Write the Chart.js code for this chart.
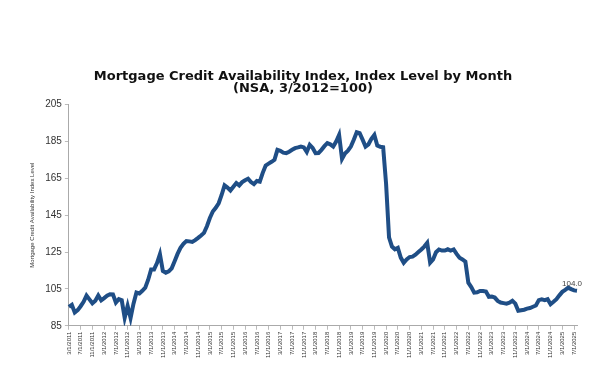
<!DOCTYPE html>
<html>
<head>
<meta charset="utf-8">
<script src="https://cdn.jsdelivr.net/npm/chart.js@4"></script>
<style>
  body { margin: 0; background: #fff; }
  #wrap { width: 599px; height: 366px; }
</style>
</head>
<body>
<div id="wrap"><canvas id="Mychart" width="599" height="366"></canvas></div>
<script>
// monthly index level, 3/2011 .. 8/2025
const startYear = 2011, startMonth = 3;
const mcai = [
  95.3, 96.4, 92.2, 93.5, 95.6, 98.0, 101.4, 99.3, 97.2, 98.6,              // 2011
  101.4, 98.8, 100.0, 101.3, 102.1, 102.0, 97.6, 99.4, 98.8, 89.3, 95.8, 89.2, // 2012
  97.0, 103.0, 102.5, 104.0, 105.7, 110.0, 115.6, 115.6, 119.0, 123.8, 114.7, 113.8, // 2013
  114.5, 116.2, 120.0, 124.0, 127.3, 129.5, 131.0, 130.8, 130.5, 131.5, 132.7, 134.0, // 2014
  135.4, 139.0, 143.5, 147.0, 149.0, 151.5, 156.0, 161.2, 160.0, 158.4, 160.5, 162.5, // 2015
  161.2, 163.0, 164.0, 164.8, 163.0, 161.9, 163.6, 163.2, 168.0, 172.0, 173.0, 174.0, // 2016
  175.1, 180.5, 180.0, 179.0, 178.7, 179.5, 180.5, 181.4, 181.8, 182.3, 181.8, 179.3, // 2017
  183.2, 181.5, 178.7, 178.8, 180.5, 182.5, 184.1, 183.5, 182.3, 185.0, 188.6, 175.6, // 2018
  178.5, 180.0, 182.3, 186.0, 190.0, 189.5, 186.0, 182.3, 183.5, 186.5, 188.6, 182.8, // 2019
  182.2, 181.9, 162.0, 133.0, 128.0, 126.5, 127.3, 122.0, 119.2, 121.0, 122.3, 122.5, // 2020
  123.6, 125.0, 126.4, 128.0, 130.0, 119.2, 121.0, 124.9, 126.4, 125.8, 125.8, 126.5, // 2021
  125.8, 126.4, 124.0, 121.9, 121.0, 119.8, 108.4, 106.0, 103.0, 103.2, 103.9, 103.9, // 2022
  103.6, 100.7, 100.9, 100.3, 98.5, 97.6, 97.3, 97.0, 97.5, 98.5, 97.0, 93.1,  // 2023
  93.4, 93.7, 94.3, 94.6, 95.3, 96.0, 98.9, 99.3, 98.9, 99.4, 96.7, 98.0,      // 2024
  99.4, 101.5, 103.4, 104.5, 105.7, 104.9, 104.2, 104.0                        // 2025
];

const monthLabels = mcai.map(function(v, i){
  const m = (startMonth - 1 + i) % 12 + 1;
  const y = startYear + Math.floor((startMonth - 1 + i) / 12);
  return m + '/1/' + y;
});

const yTicks = [85, 105, 125, 145, 165, 185, 205];
const lastLabel = '104.0';

const lastValuePlugin = {
  id: 'lastValue',
  afterDatasetsDraw(chart){
    const meta = chart.getDatasetMeta(0);
    const pt = meta.data[meta.data.length - 1];
    const c = chart.ctx;
    c.save();
    c.font = '8px "Liberation Sans", Arial';
    c.fillStyle = '#444';
    c.textAlign = 'center';
    c.textBaseline = 'bottom';
    c.fillText(lastLabel, pt.x - 5, pt.y - 3);
    c.restore();
  }
};

const ctx = document.getElementById('Mychart');
new Chart(ctx, {
  type: 'line',
  data: {
    labels: monthLabels,
    datasets: [{
      label: 'MCAI',
      data: mcai,
      borderColor: '#1f4e86',
      borderWidth: 4,
      pointRadius: 0,
      tension: 0,
      fill: false
    }]
  },
  options: {
    responsive: false,
    animation: false,
    layout: { padding: { left: 29, right: 22, top: 70, bottom: 6 } },
    plugins: {
      legend: { display: false },
      tooltip: { enabled: false },
      title: {
        display: true,
        text: ['Mortgage Credit Availability Index, Index Level by Month', '(NSA, 3/2012=100)'],
        color: '#111',
        font: { family: '"DejaVu Sans"', size: 13, weight: 'bold', lineHeight: 0.95 },
        padding: { top: 0, bottom: 10 }
      }
    },
    scales: {
      x: {
        grid: { display: true, drawOnChartArea: false, tickLength: 4, color: '#bbb' },
        border: { color: '#aaa' },
        ticks: {
          autoSkip: false,
          maxRotation: 90,
          minRotation: 90,
          color: '#333',
          padding: 2,
          font: { family: '"Liberation Sans", Arial', size: 6 },
          callback: function(val, i){ return i % 4 === 0 ? this.getLabelForValue(val) : null; }
        }
      },
      y: {
        min: yTicks[0],
        max: yTicks[yTicks.length - 1],
        afterBuildTicks: function(axis){ axis.ticks = yTicks.map(function(v){ return { value: v }; }); },
        grid: { display: true, drawOnChartArea: false, tickLength: 4, color: '#bbb' },
        border: { color: '#aaa' },
        ticks: {
          color: '#333',
          padding: 3,
          font: { family: '"Liberation Sans", Arial', size: 10 }
        },
        title: {
          display: true,
          text: 'Mortgage Credit Availability Index Level',
          color: '#333',
          font: { family: '"Liberation Sans", Arial', size: 6 },
          padding: { top: 0, bottom: 6 }
        }
      }
    }
  },
  plugins: [lastValuePlugin]
});
</script>
</body>
</html>
